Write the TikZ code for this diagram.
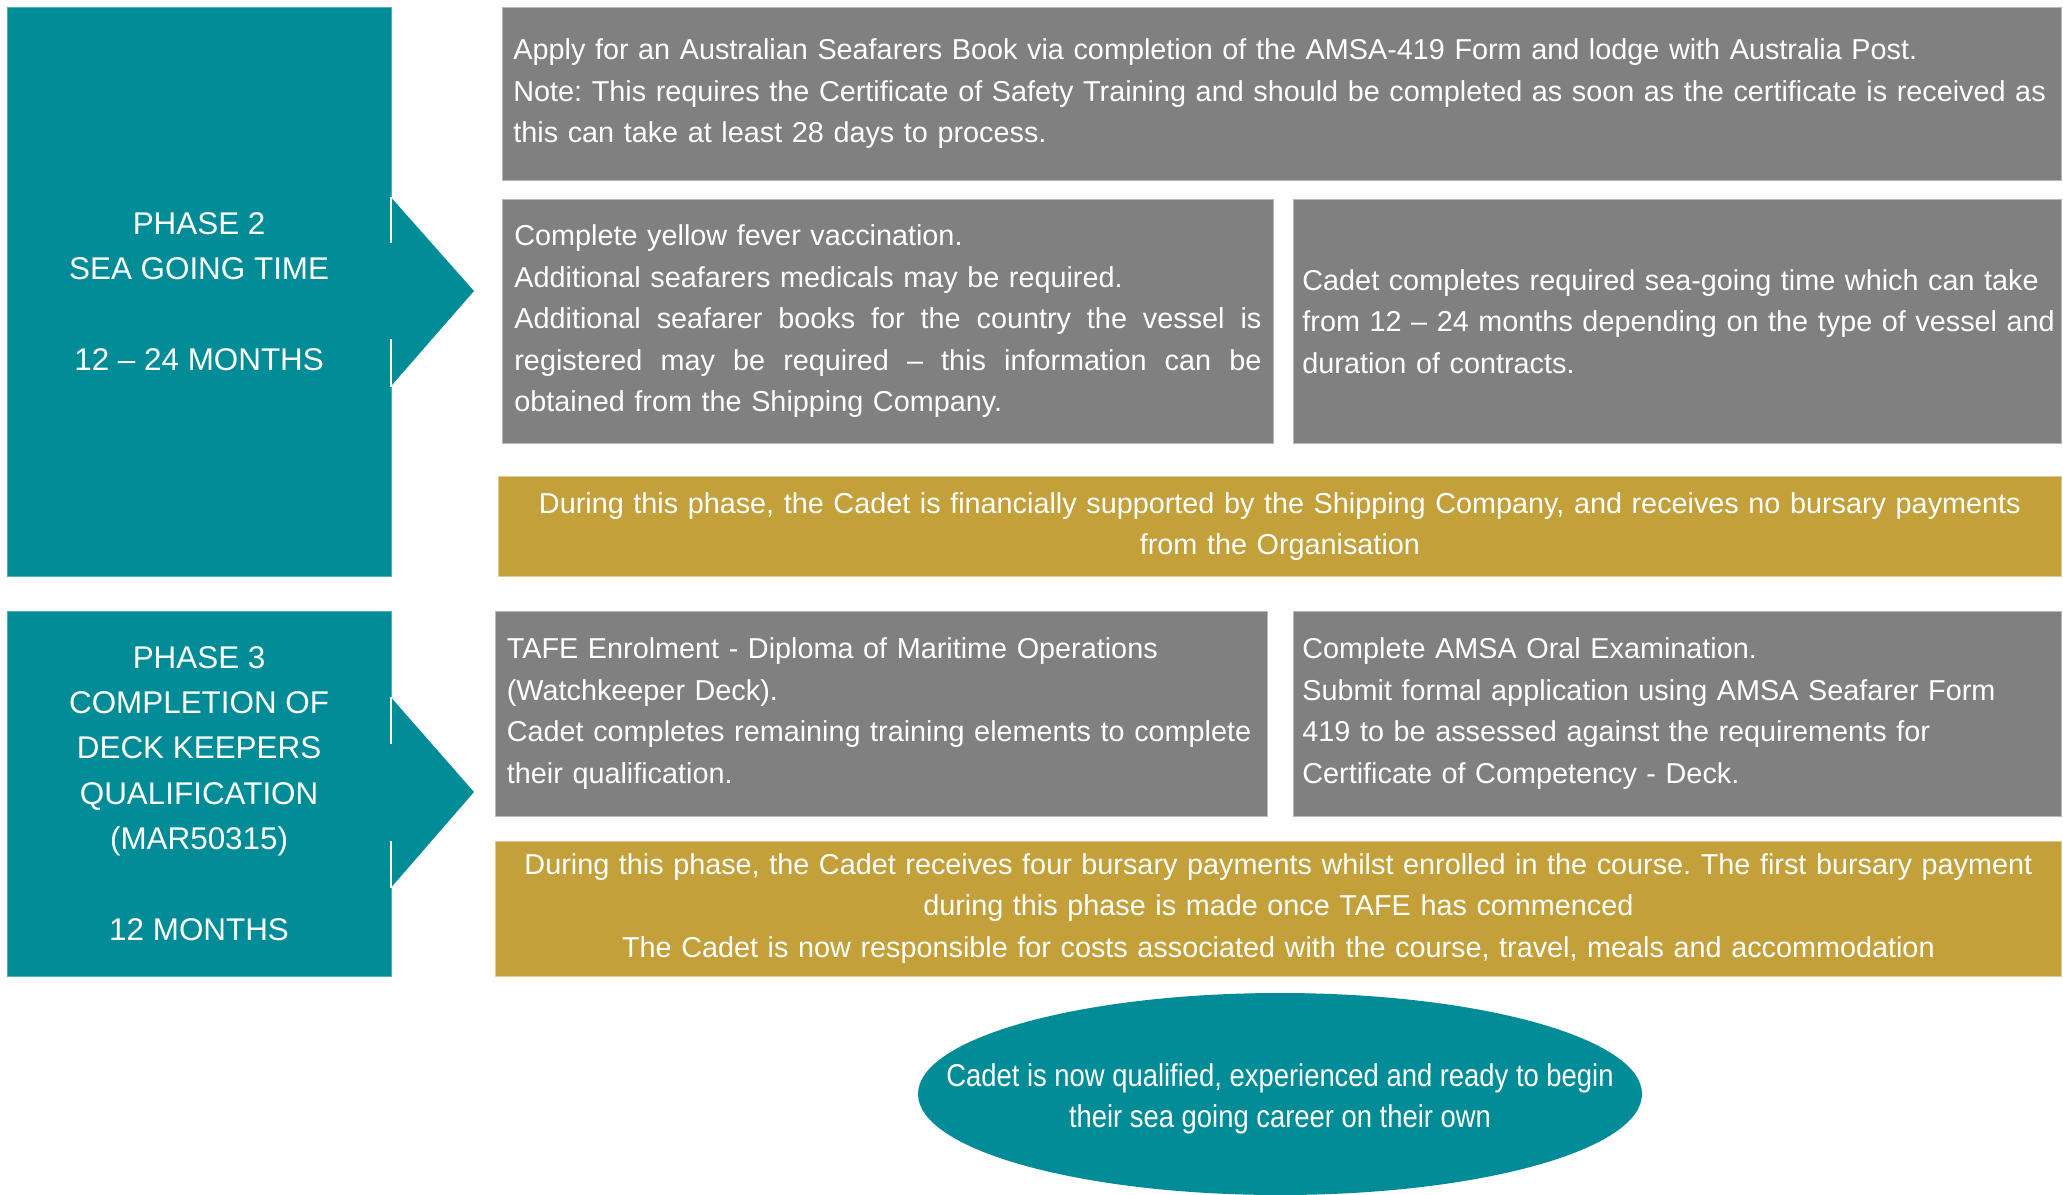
\documentclass[tikz,border=0pt]{standalone}
\usepackage{fontspec}
\setmainfont{Liberation Sans}
\newfontfamily\ellfont[FakeStretch=0.87]{Liberation Sans}
\usetikzlibrary{shapes.geometric}
\definecolor{phaseteal}{HTML}{028C97}
\definecolor{boxgray}{HTML}{808080}
\definecolor{boxgold}{HTML}{C4A03B}
\frenchspacing
\tikzset{
  phasebox/.style={fill=phaseteal, draw=phaseteal!70!white, line width=0.8pt, anchor=north west, text=white, align=center,
    inner sep=0pt, font=\fontsize{31.4}{45.3}\selectfont},
  graybox/.style={fill=boxgray, draw=boxgray!55!white, line width=0.8pt, anchor=north west, text=white, align=left,
    inner ysep=0pt, font=\fontsize{28.8}{41.5}\selectfont},
  goldbox/.style={fill=boxgold, draw=boxgold!55!white, line width=0.8pt, anchor=north west, text=white, align=center,
    inner ysep=0pt, font=\fontsize{28.8}{41.5}\selectfont},
  arrowtri/.style={fill=phaseteal},
  seam/.style={draw=white, line width=1.3pt},
  endoval/.style={ellipse, fill=phaseteal, draw=none, inner sep=0pt,
    minimum width=724pt, minimum height=202pt},
  ovaltext/.style={text=white, align=center, inner sep=0pt,
    font=\ellfont\fontsize{31.5}{41}\selectfont}
}
\begin{document}
\begin{tikzpicture}[x=1pt,y=-1pt]
\useasboundingbox (0,0) rectangle (2063,1194);

% Phase 2
\node[phasebox, minimum width=384pt, minimum height=569.5pt] (p2) at (6.7,6.5)
  {PHASE 2\\SEA GOING TIME\\[45.3pt]12 – 24 MONTHS};
\fill[arrowtri] (390.7,197) -- (474,291) -- (390.7,386.5) -- cycle;
\draw[seam] (391,197) -- (391,243);
\draw[seam] (391,339) -- (391,386.5);

% Phase 3
\node[phasebox, minimum width=384pt, minimum height=365pt] (p3) at (6.7,610.5)
  {PHASE 3\\COMPLETION OF\\DECK KEEPERS\\QUALIFICATION\\(MAR50315)\\[45.3pt]12 MONTHS};
\fill[arrowtri] (390.7,697) -- (474,792) -- (390.7,888) -- cycle;
\draw[seam] (391,697) -- (391,744);
\draw[seam] (391,841) -- (391,888);

% Phase 2 content
\node[graybox, inner xsep=11pt, text width=1537pt, minimum height=173.4pt] (a) at (502,6.6)
  {\mbox{Apply for an Australian Seafarers Book via completion of the AMSA-419 Form and lodge with Australia Post.}\\
   \mbox{Note: This requires the Certificate of Safety Training and should be completed as soon as the certificate is received as}\\
   \mbox{this can take at least 28 days to process.}};

\node[graybox, inner xsep=12pt, text width=747pt, minimum height=244pt] (b) at (502,199)
  {\mbox{Complete yellow fever vaccination.}\\
   \mbox{Additional seafarers medicals may be required.}\\
   \makebox[747pt][l]{Additional\hfill seafarer\hfill books\hfill for\hfill the\hfill country\hfill the\hfill vessel\hfill is}\\
   \makebox[747pt][l]{registered\hfill may\hfill be\hfill required\hfill –\hfill this\hfill information\hfill can\hfill be}\\
   \mbox{obtained from the Shipping Company.}};

\node[graybox, inner xsep=9pt, text width=750pt, minimum height=244pt] (c) at (1293,199)
  {\mbox{Cadet completes required sea-going time which can take}\\
   \mbox{from 12 – 24 months depending on the type of vessel and}\\
   \mbox{duration of contracts.}};

\node[goldbox, inner xsep=10pt, text width=1543pt, minimum height=100pt] (g1) at (498,476)
  {\mbox{During this phase, the Cadet is financially supported by the Shipping Company, and receives no bursary payments}\\
   \mbox{from the Organisation}};

% Phase 3 content
\node[graybox, inner xsep=11.5pt, text width=749pt, minimum height=205.5pt] (d) at (495,610.5)
  {\mbox{TAFE Enrolment - Diploma of Maritime Operations}\\
   \mbox{(Watchkeeper Deck).}\\
   \mbox{Cadet completes remaining training elements to complete}\\
   \mbox{their qualification.}};

\node[graybox, inner xsep=9pt, text width=750pt, minimum height=205.5pt] (e) at (1293,610.5)
  {\mbox{Complete AMSA Oral Examination.}\\
   \mbox{Submit formal application using AMSA Seafarer Form}\\
   \mbox{419 to be assessed against the requirements for}\\
   \mbox{Certificate of Competency - Deck.}};

\node[goldbox, inner xsep=10pt, text width=1546pt, minimum height=135pt] (g2) at (495,840.5)
  {\mbox{During this phase, the Cadet receives four bursary payments whilst enrolled in the course. The first bursary payment}\\
   \mbox{during this phase is made once TAFE has commenced}\\
   \mbox{The Cadet is now responsible for costs associated with the course, travel, meals and accommodation}};

% Final oval
\node[endoval] (fin) at (1280,1094) {};
\node[ovaltext] (fintext) at ([yshift=-5pt]fin.center)
  {Cadet is now qualified, experienced and ready to begin\\their sea going career on their own};
\end{tikzpicture}
\end{document}
